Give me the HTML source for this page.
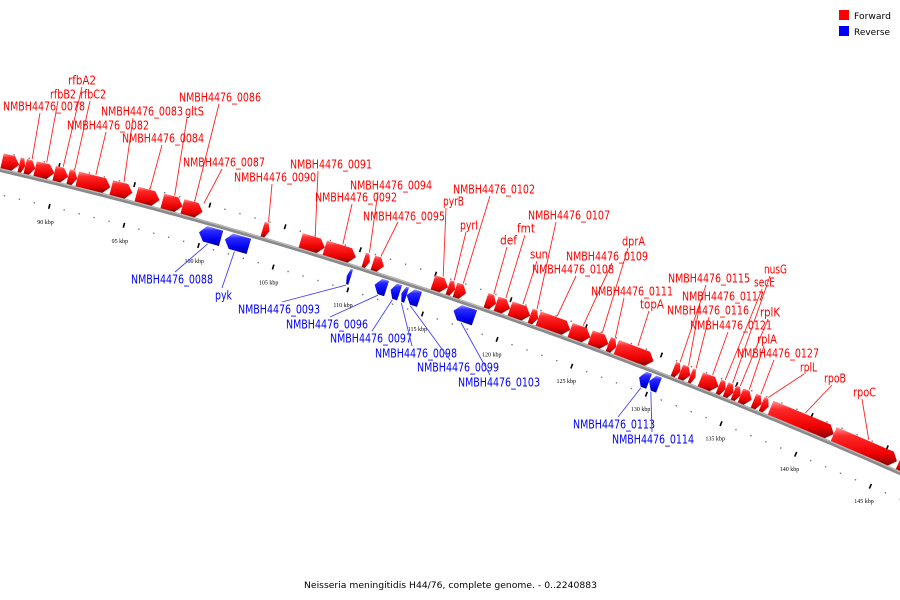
<!DOCTYPE html>
<html><head><meta charset="utf-8"><style>
html,body{margin:0;padding:0;background:#fff;}
svg{display:block;}
</style></head><body>
<svg id="chart" width="900" height="600" viewBox="0 0 900 600" xmlns="http://www.w3.org/2000/svg">
<defs>
<linearGradient id="gRed" x1="0" y1="0" x2="0" y2="1">
<stop offset="0" stop-color="#ff9a9a"/><stop offset="0.22" stop-color="#ff2a2a"/><stop offset="0.7" stop-color="#ee0000"/><stop offset="1" stop-color="#8a0000"/>
</linearGradient>
<linearGradient id="gBlue" x1="0" y1="0" x2="0" y2="1">
<stop offset="0" stop-color="#9a9aff"/><stop offset="0.22" stop-color="#2a2aff"/><stop offset="0.7" stop-color="#0000ee"/><stop offset="1" stop-color="#00008a"/>
</linearGradient>
</defs>
<g id="legend">
<rect x="839" y="10" width="10" height="10" fill="#ff0000"/>
<text x="854" y="19" font-family="DejaVu Sans, Liberation Sans, sans-serif" font-size="9" fill="#000" textLength="37" lengthAdjust="spacingAndGlyphs">Forward</text>
<rect x="839" y="26" width="10" height="10" fill="#0000ff"/>
<text x="854" y="35" font-family="DejaVu Sans, Liberation Sans, sans-serif" font-size="9" fill="#000" textLength="36" lengthAdjust="spacingAndGlyphs">Reverse</text>
</g>
<text x="304" y="588" font-family="DejaVu Sans, Liberation Sans, sans-serif" font-size="9" fill="#000" textLength="293" lengthAdjust="spacingAndGlyphs">Neisseria meningitidis H44/76, complete genome. - 0..2240883</text>
</svg>
<script>
// ---- data (kbp) ----
const fwdStart = [86.33,87.47,87.87,88.53,89.8,90.73,91.33,93.6,95.27,97.0,98.33,103.67,106.2,107.8,110.4,111.0,115.0,116.0,116.47,118.53,119.2,120.13,121.47,122.0,124.13,125.47,126.67,127.2,131.0,131.47,132.13,132.8,134.0,134.47,135.0,135.47,136.33,136.87,137.47,141.67,146.0];
const fwdEnd   = [87.47,87.87,88.53,89.8,90.73,91.33,93.53,95.0,96.8,98.33,99.67,104.13,107.8,109.87,110.8,111.73,116.0,116.47,117.2,119.2,120.13,121.47,122.0,124.13,125.47,126.67,127.2,129.67,131.47,132.13,132.47,134.0,134.47,135.0,135.47,136.2,136.87,137.33,141.67,145.87,146.67];
const revStart = [99.8,101.53,109.67,111.53,112.6,113.33,113.67,116.8,129.2,129.87];
const revEnd   = [101.27,103.13,109.93,112.33,113.2,113.67,114.53,118.2,129.87,130.53];
const tickMin = 86, tickMax = 147, majorTicks = [90,95,100,105,110,115,120,125,130,135,140,145];
const fwdLabels = ['NMBH4476_0078','rfbB2','rfbA2','rfbC2','NMBH4476_0082','NMBH4476_0083','gltS','NMBH4476_0084','NMBH4476_0086','NMBH4476_0087','NMBH4476_0090','NMBH4476_0091','NMBH4476_0092','NMBH4476_0094','NMBH4476_0095','pyrB','pyrI','NMBH4476_0102','def','fmt','sun','NMBH4476_0107','NMBH4476_0108','NMBH4476_0109','dprA','NMBH4476_0111','topA','NMBH4476_0115','NMBH4476_0117','NMBH4476_0116','NMBH4476_0121','secE','nusG','rplK','rplA','NMBH4476_0127','rplL','rpoB','rpoC'];
const fwdLabelGene = [2,3,4,5,6,7,9,8,10,10,11,12,13,14,15,16,17,18,19,20,21,22,23,24,25,26,27,28,29,30,31,32,33,34,35,36,37,38,39];
const revLabels = ['NMBH4476_0088','pyk','NMBH4476_0093','NMBH4476_0096','NMBH4476_0097','NMBH4476_0098','NMBH4476_0099','NMBH4476_0103','NMBH4476_0113','NMBH4476_0114'];
const revLabelGene = [0,1,2,3,4,5,6,7,8,9];
// ---- label layout (pixels: x-left, y-center, width, line-start x, line-start y, fraction along gene) ----
const fwdLayout = [[3,106,82,40,113,.5],[50,94,26,58,101,.5],[68,80,28,82,87,.5],[80,94,26,90,101,.5],[67,125,82,106,132,.5],[101,111,82,133,118,.5],[185,111,19,187,118,.5],[122,138,82,162,145,.5],[179,97,82,219,104,.5],[183,162,82,222,169,.95],[234,177,82,272,184,.5],[290,164,82,318,171,.5],[315,197,82,352,204,.5],[350,185,82,378,192,.5],[363,216,82,398,222,.5],[443,201,21,446,208,.5],[460,225,18,466,232,.5],[453,189,82,490,196,.5],[500,240,17,507,247,.5],[517,228,18,525,235,.5],[530,254,18,537,261,.5],[528,215,82,556,222,.5],[532,269,82,576,276,.5],[566,256,82,612,263,.5],[622,241,23,628,248,.5],[591,291,82,624,298,.5],[640,304,24,649,311,.5],[668,278,82,706,285,.5],[682,296,82,700,303,.5],[667,310,82,709,317,.5],[690,325,82,728,332,.5],[754,282,21,762,289,.5],[764,269,23,770,276,.5],[760,312,20,768,319,.5],[757,339,20,764,346,.5],[737,353,82,774,360,.5],[800,367,17,804,374,.5],[824,378,22,832,385,.5],[853,392,23,862,399,.5]];
const revLayout = [[131,279,82,175,272],[215,295,17,222,288],[238,309,82,282,302],[286,324,82,330,317],[330,338,82,372,331],[375,353,82,412,346],[417,367,82,450,360],[458,382,82,490,375],[573,424,82,618,417],[612,439,82,652,432]];

const NS = 'http://www.w3.org/2000/svg';
const svg = document.getElementById('chart');
function X(k){ return 55 + (k-90)*15.0; }
function bY(x){ return 170 + 0.2317*x + 1.167e-4*x*x; }
function pt(k, off){
  const x = X(k), y = bY(x);
  const th = Math.atan(0.2317 + 2*1.167e-4*x);
  return [x - off*Math.sin(th), y + off*Math.cos(th)];
}
function mk(tag, attrs, parent){
  const e = document.createElementNS(NS, tag);
  for (const a in attrs) e.setAttribute(a, attrs[a]);
  (parent||svg).appendChild(e); return e;
}
const P = a => a[0].toFixed(1)+','+a[1].toFixed(1);

// backbone
const gB = mk('g', {});


let d = '';
for (let x=-5; x<=905; x+=5){ d += (x===-5?'M':'L') + x + ',' + bY(x).toFixed(1) + ' '; }
mk('path', {d:d, fill:'none', stroke:'#8a8a8a', 'stroke-width':4}, gB);
mk('path', {d:d, fill:'none', stroke:'#b8b8b8', 'stroke-width':1.2, transform:'translate(0,-1.2)'}, gB);

// ticks
const gT = mk('g', {});


for (let k=tickMin; k<=tickMax; k++){
  const major = majorTicks.indexOf(k) >= 0;
  [[-18],[24]].forEach(([o])=>{
    if (major){
      const a = pt(k, o-2.5), b = pt(k, o+2.5);
      const l = mk('line', {x1:a[0],y1:a[1],x2:b[0],y2:b[1],stroke:'#000','stroke-width':1.6}, gT);
      
      
    } else {
      const a = pt(k, o);
      const c = mk('rect', {x:a[0]-0.7,y:a[1]-0.7,width:1.4,height:1.4,fill:'#777'}, gT);
      
      
    }
  });
  if (major){
    const a = pt(k, 40);
    const t = mk('text', {x:a[0], y:a[1]+2, 'text-anchor':'middle', 'font-family':'Liberation Serif, serif', 'font-size':6, fill:'#000'}, gT);
    t.textContent = k + ' kbp';
    
    
  }
}

// genes
function gene(k0, k1, fwd, grad){
  const o0 = fwd ? -2 : 3, o1 = fwd ? -17 : 19, om = (o0+o1)/2;
  const len = X(k1) - X(k0);
  const ah = Math.min(6, len*0.45) / 15;
  let pts;
  if (fwd){
    const kh = k1 - ah;
    pts = [pt(k0,o0), pt(k0,o1), pt(kh,o1), pt(k1,om), pt(kh,o0)];
  } else {
    const kh = k0 + ah;
    pts = [pt(k1,o0), pt(k1,o1), pt(kh,o1), pt(k0,om), pt(kh,o0)];
  }
  return mk('polygon', {points: pts.map(P).join(' '), fill: grad}, gG);
}
const gG = mk('g', {});


for (let i=0;i<fwdStart.length;i++){
  const g = gene(fwdStart[i], fwdEnd[i], true, 'url(#gRed)');
  
  
}
for (let i=0;i<revStart.length;i++){
  const g = gene(revStart[i], revEnd[i], false, 'url(#gBlue)');
  
  
}

// labels
const gL = mk('g', {});


function label(txt, lay, gi, fwd){
  const k0 = fwd ? fwdStart[gi] : revStart[gi], k1 = fwd ? fwdEnd[gi] : revEnd[gi];
  const f = fwd ? lay[5] : 0.5;
  const e = pt(k0 + (k1-k0)*f, fwd ? -18 : 20);
  const col = fwd ? '#ff0000' : '#0000ff';
  const ln = mk('line', {x1:lay[3], y1:lay[4], x2:e[0], y2:e[1], stroke: fwd ? '#ff2020' : '#4040ff', 'stroke-width':0.9}, gL);
  
  
  const t = mk('text', {x:lay[0], y:lay[1]+4.5, fill:col, 'font-family':'DejaVu Sans, Liberation Sans, sans-serif', 'font-size':12, textLength:lay[2], lengthAdjust:'spacingAndGlyphs'}, gL);
  t.textContent = txt;
  
  
}
for (let i=0;i<fwdLabels.length;i++) label(fwdLabels[i], fwdLayout[i], fwdLabelGene[i], true);
for (let i=0;i<revLabels.length;i++) label(revLabels[i], revLayout[i], revLabelGene[i], false);
</script>
</body></html>
